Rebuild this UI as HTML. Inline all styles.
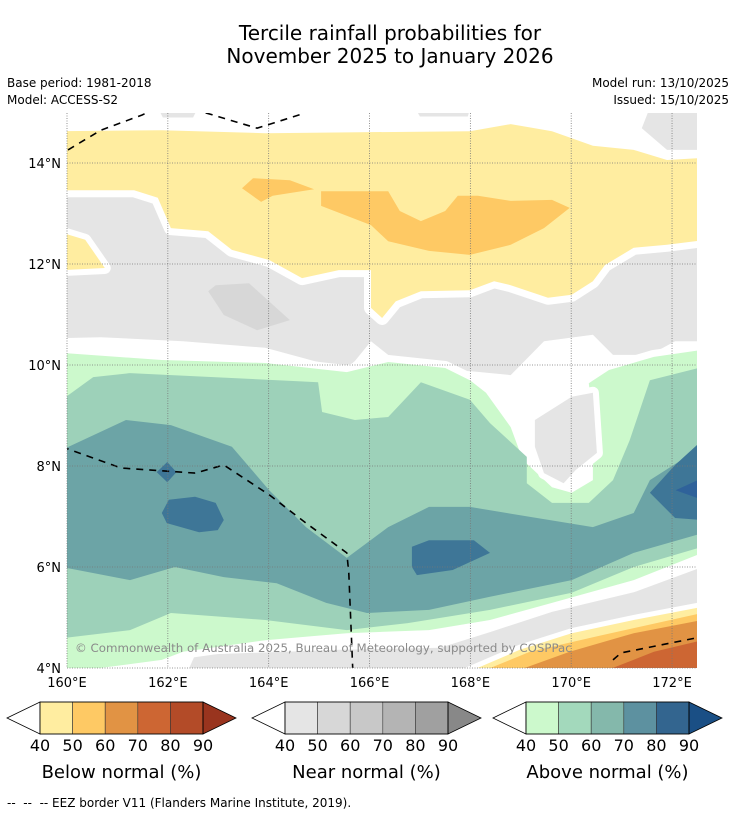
<!DOCTYPE html>
<html><head><meta charset="utf-8">
<style>
html,body{margin:0;padding:0;background:#fff;}
body{width:736px;height:816px;position:relative;overflow:hidden;font-family:"Liberation Sans","DejaVu Sans",sans-serif;color:#000;}
.t{position:absolute;white-space:nowrap;}
</style></head>
<body>
<div class="t" style="left:0;width:780px;text-align:center;top:22px;font-size:20px;line-height:23px;font-family:'DejaVu Sans',sans-serif;">Tercile rainfall probabilities for<br>November 2025 to January 2026</div>
<div class="t" style="left:7px;top:76px;font-size:12px;font-family:'DejaVu Sans',sans-serif;">Base period: 1981-2018</div>
<div class="t" style="left:7px;top:93px;font-size:12px;font-family:'DejaVu Sans',sans-serif;">Model: ACCESS-S2</div>
<div class="t" style="right:7px;top:76px;font-size:12px;text-align:right;font-family:'DejaVu Sans',sans-serif;">Model run: 13/10/2025</div>
<div class="t" style="right:7px;top:93px;font-size:12px;text-align:right;font-family:'DejaVu Sans',sans-serif;">Issued: 15/10/2025</div>

<svg id="map" width="736" height="816" style="position:absolute;left:0;top:0;" xmlns="http://www.w3.org/2000/svg">
<defs><clipPath id="clip"><rect x="67" y="113" width="630" height="555"/></clipPath></defs>
<g id="layers" clip-path="url(#clip)"></g>
<g id="grid"></g>
<g id="labels" font-family="DejaVu Sans, Liberation Sans, sans-serif" font-size="13"></g>
</svg>

<div class="t" style="left:75px;top:641px;font-size:11.8px;color:#8a8a8a;font-family:'DejaVu Sans',sans-serif;">© Commonwealth of Australia 2025, Bureau of Meteorology, supported by COSPPac</div>

<svg width="736" height="816" style="position:absolute;left:0;top:0;" id="cbars" xmlns="http://www.w3.org/2000/svg" font-family="DejaVu Sans, Liberation Sans, sans-serif"></svg>

<div class="t" style="left:7px;top:796px;font-size:12px;font-family:'DejaVu Sans',sans-serif;">-- &nbsp;-- &nbsp;-- EEZ border V11 (Flanders Marine Institute, 2019).</div>

<script>
// ---- data ----
const lonTicks = [160,162,164,166,168,170,172];
const latTicks = [4,6,8,10,12,14];
const grayTop = [[159.86,13.56],[161.45,13.56],[161.94,12.97],[162.93,12.77],[163.43,12.43],[164.12,12.18],[164.82,11.98],[166.21,12.04],[166.21,11.48],[167.0,11.68],[168.19,11.84],[169.58,11.48],[170.57,12.18],[171.36,12.43],[172.6,12.57],[172.6,10.47],[172.06,10.47],[171.56,10.2],[170.83,10.2],[170.43,10.6],[169.46,10.47],[168.8,9.8],[167.99,9.88],[166.52,9.88],[166.37,10.2],[166.03,10.47],[165.71,10.08],[165.55,9.94],[164.9,10.08],[163.93,10.34],[162.3,10.47],[160.67,10.55],[159.86,10.53]];
const grayCorner = [[171.56,15.1],[172.6,15.1],[172.6,14.26],[171.9,14.26],[171.4,14.69]];
const grayPatch1 = [[161.8,15.1],[162.6,15.1],[162.5,14.9],[161.9,14.9]];
const grayPatch2 = [[166.9,15.1],[168.0,15.1],[167.95,14.92],[167.0,14.92]];
const grayDark = [[162.8,11.46],[162.95,11.58],[163.61,11.62],[164.42,10.89],[163.77,10.69],[163.11,10.99]];
const yellowMain = [[159.9,14.63],[161.88,14.65],[163.93,14.59],[167.99,14.63],[168.8,14.77],[169.62,14.63],[170.43,14.34],[171.24,14.26],[171.9,14.06],[172.6,14.1],[172.6,12.47],[171.9,12.38],[171.24,12.32],[170.67,11.98],[170.43,11.66],[170.01,11.39],[169.54,11.33],[168.8,11.58],[168.47,11.66],[167.99,11.48],[167.02,11.46],[166.52,11.26],[166.25,10.93],[166.03,11.13],[166.03,11.88],[165.39,11.88],[164.66,11.72],[164.01,12.08],[163.27,12.28],[162.8,12.65],[162.06,12.71],[161.8,13.31],[161.33,13.46],[159.9,13.46]];
const yellowLeft = [[159.9,12.62],[160.36,12.48],[160.75,11.92],[159.9,11.88]];
const orangeA = [[163.47,13.5],[163.69,13.7],[164.42,13.66],[164.9,13.48],[164.08,13.35],[163.85,13.23]];
const orangeB = [[165.04,13.44],[166.37,13.44],[166.6,13.05],[167.02,12.85],[167.5,13.05],[167.75,13.35],[168.15,13.35],[168.8,13.25],[169.62,13.27],[169.97,13.11],[169.46,12.71],[168.8,12.38],[167.99,12.18],[167.18,12.26],[166.37,12.45],[166.03,12.77],[165.04,13.15]];
const aboveLight = [[159.9,10.24],[161.88,10.1],[163.93,10.04],[165.55,9.86],[166.37,10.06],[167.5,9.94],[167.99,9.7],[168.31,9.45],[168.8,8.77],[169.04,8.12],[169.62,7.58],[170.01,7.47],[170.43,7.72],[170.43,8.91],[170.35,9.64],[170.75,9.9],[171.64,10.16],[172.6,10.3],[172.6,6.28],[171.24,5.74],[169.62,5.29],[168.39,4.95],[167.18,4.75],[165.55,4.69],[163.93,4.55],[162.3,4.32],[161.88,4.16],[159.9,3.9]];
const grayPocket = [[169.28,8.91],[170.01,9.37],[170.43,9.45],[170.51,8.26],[170.09,7.92],[169.85,7.66],[169.46,7.86],[169.28,8.38]];
const aboveMid = [[159.9,9.31],[160.52,9.76],[161.25,9.84],[164.98,9.66],[165.06,9.07],[165.71,8.91],[166.37,8.97],[167.02,9.66],[167.99,9.31],[168.39,8.85],[169.12,8.18],[169.12,7.66],[169.62,7.27],[170.35,7.27],[170.83,7.72],[171.16,8.51],[171.56,9.7],[172.6,9.96],[172.6,6.4],[171.24,6.0],[170.01,5.49],[168.39,5.15],[166.76,4.89],[165.55,4.75],[163.93,4.95],[162.06,5.09],[161.25,4.75],[159.9,4.59]];
const aboveHigh = [[159.9,8.32],[161.17,8.91],[162.06,8.81],[163.27,8.38],[164.01,7.52],[164.74,6.79],[165.55,6.18],[166.37,6.79],[167.18,7.19],[167.99,7.19],[169.2,6.99],[170.43,6.79],[171.24,7.07],[171.56,7.72],[172.6,8.38],[172.6,6.67],[171.24,6.28],[170.01,5.74],[168.39,5.41],[167.18,5.15],[165.95,5.09],[165.14,5.29],[164.16,5.68],[163.11,5.8],[162.14,6.0],[161.25,5.74],[159.9,6.0]];
const blue1 = [[161.88,7.07],[162.02,7.33],[162.54,7.39],[162.95,7.27],[163.11,6.93],[162.99,6.73],[162.62,6.69],[161.98,6.87]];
const blue2 = [[166.84,6.4],[167.18,6.53],[168.07,6.53],[168.39,6.28],[167.65,5.94],[166.94,5.84],[166.84,6.0]];
const blue3 = [[172.6,8.51],[172.06,8.02],[171.56,7.47],[172.06,6.97],[172.6,6.93]];
const blue4 = [[172.6,7.76],[172.07,7.52],[172.6,7.33]];
const blueDiamond = [[161.78,7.88],[161.99,8.08],[162.17,7.88],[161.99,7.68]];
const grayBottom = [[162.38,3.9],[162.54,4.26],[165.41,4.36],[167.4,4.4],[168.39,4.71],[169.62,5.11],[171.24,5.5],[172.6,6.0],[172.6,3.9]];
const belowY = [[167.91,3.9],[168.98,4.36],[170.01,4.69],[171.24,4.95],[172.6,5.21],[172.6,3.9]];
const belowO = [[168.15,3.9],[169.18,4.32],[170.43,4.61],[172.6,5.09],[172.6,3.9]];
const belowD = [[168.8,3.9],[169.97,4.32],[171.24,4.69],[172.6,4.95],[172.6,3.9]];
const belowR = [[170.57,3.9],[171.64,4.32],[172.6,4.55],[172.6,3.9]];
const eezArc1 = [[160.02,14.26],[160.67,14.65],[161.49,14.95],[162.0,15.2]];
const eezArc2 = [[162.6,15.2],[162.76,14.99],[163.77,14.69],[164.66,14.97],[165.0,15.2]];
const eezMid = [[159.9,8.38],[161.07,7.96],[162.54,7.86],[163.11,8.02],[164.01,7.43],[164.74,6.87],[165.55,6.28],[165.59,5.88],[165.67,3.9]];
const eezBR = [[170.83,4.16],[170.99,4.3],[172.6,4.62]];

// ---- axes ----
const X = lon => 67 + (lon - 160) * 50.42;
const Y = lat => 668 - (lat - 4) * 50.5;
const NS = 'http://www.w3.org/2000/svg';
const pts = a => a.map(p => X(p[0]).toFixed(1) + ',' + Y(p[1]).toFixed(1)).join(' ');
const layers = document.getElementById('layers');

function poly(arr, fill, name, gap) {
  const el = document.createElementNS(NS, 'polygon');
  el.setAttribute('points', pts(arr));
  el.setAttribute('fill', fill);
  if (gap) { el.setAttribute('stroke', '#fff'); el.setAttribute('stroke-width', gap); el.setAttribute('stroke-linejoin', 'round'); el.setAttribute('paint-order', 'stroke'); }
  
  
  layers.appendChild(el);
}
function line(arr, name, dash) {
  const el = document.createElementNS(NS, 'polyline');
  el.setAttribute('points', pts(arr));
  el.setAttribute('fill', 'none');
  el.setAttribute('stroke', '#000');
  el.setAttribute('stroke-width', '1.6');
  el.setAttribute('stroke-dasharray', dash);
  
  
  layers.appendChild(el);
}

poly(grayTop, '#e5e5e5', 'near-normal-40-region', 0);
poly(grayCorner, '#e5e5e5', 'near-normal-40-corner', 0);
poly(grayPatch1, '#e5e5e5', 'near-normal-40-patch', 0);
poly(grayPatch2, '#e5e5e5', 'near-normal-40-patch', 0);
poly(grayDark, '#d7d7d7', 'near-normal-50-region', 0);
poly(yellowMain, '#ffeda0', 'below-normal-40-region', 14);
poly(yellowLeft, '#ffeda0', 'below-normal-40-left', 12);
poly(orangeA, '#fec964', 'below-normal-50-region-a', 0);
poly(orangeB, '#fec964', 'below-normal-50-region-b', 0);
poly(grayBottom, '#e5e5e5', 'near-normal-40-bottom', 0);
poly(aboveLight, '#ccf9cc', 'above-normal-40-region', 14);
poly(grayPocket, '#e5e5e5', 'near-normal-40-pocket', 12);
poly(aboveMid, '#9dd1b9', 'above-normal-50-region', 0);
poly(aboveHigh, '#6ca4a6', 'above-normal-60-region', 0);
poly(blue1, '#3e7697', 'above-normal-70-blob-west', 0);
poly(blue2, '#3e7697', 'above-normal-70-blob-central', 0);
poly(blue3, '#3e7697', 'above-normal-70-blob-east', 0);
poly(blue4, '#2f629a', 'above-normal-80-blob-east', 0);
poly(blueDiamond, '#3e7697', 'above-normal-70-diamond', 0);
poly(belowY, '#ffeda0', 'below-normal-40-southeast', 10);
poly(belowO, '#fec964', 'below-normal-50-southeast', 0);
poly(belowD, '#e19344', 'below-normal-60-southeast', 0);
poly(belowR, '#cd6633', 'below-normal-70-southeast', 0);
line(eezArc1, 'eez-border-north-a', '7,6');
line(eezArc2, 'eez-border-north-b', '7,6');
line(eezMid, 'eez-border-central', '7,6');
line(eezBR, 'eez-border-southeast', '7,6');

// grid + labels
const grid = document.getElementById('grid');
const labels = document.getElementById('labels');
lonTicks.forEach(v => {
  const l = document.createElementNS(NS, 'line');
  l.setAttribute('x1', X(v)); l.setAttribute('x2', X(v)); l.setAttribute('y1', 113); l.setAttribute('y2', 668);
  l.setAttribute('stroke', '#777'); l.setAttribute('stroke-width', '0.8'); l.setAttribute('stroke-dasharray', '1,1.5');
  
  
  grid.appendChild(l);
  const t = document.createElementNS(NS, 'text');
  t.setAttribute('x', X(v)); t.setAttribute('y', 687); t.setAttribute('text-anchor', 'middle');
  t.textContent = v + '°E';
  
  
  labels.appendChild(t);
});
latTicks.forEach(v => {
  const l = document.createElementNS(NS, 'line');
  l.setAttribute('x1', 67); l.setAttribute('x2', 697); l.setAttribute('y1', Y(v)); l.setAttribute('y2', Y(v));
  l.setAttribute('stroke', '#777'); l.setAttribute('stroke-width', '0.8'); l.setAttribute('stroke-dasharray', '1,1.5');
  
  
  grid.appendChild(l);
  const t = document.createElementNS(NS, 'text');
  t.setAttribute('x', 61); t.setAttribute('y', Y(v) + 5); t.setAttribute('text-anchor', 'end');
  t.textContent = v + '°N';
  
  
  labels.appendChild(t);
});

// ---- colorbars ----
const cbTicks = ['40','50','60','70','80','90'];
const belowColors = ['#ffeda0','#fec964','#e19344','#cd6633','#b34b28','#99341e'];
const nearColors = ['#e5e5e5','#d7d7d7','#c8c8c8','#b4b4b4','#a0a0a0','#888888'];
const aboveColors = ['#ccf9cc','#a3d9bc','#84b8ab','#5d91a0','#33658f','#1a4f85'];
const cb = document.getElementById('cbars');
function colorbar(x0, colors, title, name) {
  const g = document.createElementNS(NS, 'g');
  
  
  const w = 32.6, top = 702, h = 32, bx = x0 + 33;
  let s = '<polygon points="' + x0 + ',' + (top + h / 2) + ' ' + bx + ',' + top + ' ' + bx + ',' + (top + h) + '" fill="#fff" stroke="#000" stroke-width="0.8"/>';
  for (let i = 0; i < 5; i++) s += '<rect x="' + (bx + i * w) + '" y="' + top + '" width="' + w + '" height="' + h + '" fill="' + colors[i] + '" stroke="#333" stroke-width="0.6"/>';
  const ex = bx + 5 * w;
  s += '<polygon points="' + ex + ',' + top + ' ' + (ex + 33) + ',' + (top + h / 2) + ' ' + ex + ',' + (top + h) + '" fill="' + colors[5] + '" stroke="#000" stroke-width="0.8"/>';
  s += '<rect x="' + bx + '" y="' + top + '" width="' + (5 * w) + '" height="' + h + '" fill="none" stroke="#000" stroke-width="0.8"/>';
  cbTicks.forEach((t, i) => { s += '<text x="' + (bx + i * w) + '" y="751" font-size="16" text-anchor="middle">' + t + '</text>'; });
  s += '<text x="' + (bx + 2.5 * w) + '" y="778" font-size="18" text-anchor="middle">' + title + '</text>';
  g.innerHTML = s;
  cb.appendChild(g);
}
colorbar(7, belowColors, 'Below normal (%)', 'below-normal-colorbar');
colorbar(252, nearColors, 'Near normal (%)', 'near-normal-colorbar');
colorbar(493, aboveColors, 'Above normal (%)', 'above-normal-colorbar');
</script>
</body></html>
